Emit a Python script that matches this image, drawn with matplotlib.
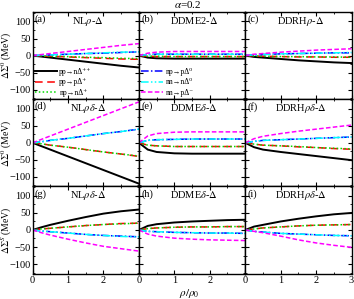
import numpy as np
import matplotlib
matplotlib.use("Agg")
import matplotlib.pyplot as plt
from matplotlib.ticker import MultipleLocator

plt.rcParams['font.family'] = ['Liberation Serif', 'DejaVu Serif']
plt.rcParams['mathtext.fontset'] = 'stix'

# density grid rho/rho0
x = [0, 0.25, 0.5, 1, 1.5, 2, 2.5, 3]

# channel order: pp->nD++, pp->pD+, np->nD+, np->pD0, nn->nD0, nn->pD-
labels = ['pp→nΔ⁺⁺', 'pp→pΔ⁺', 'np→nΔ⁺', 'np→pΔ⁰', 'nn→nΔ⁰', 'nn→pΔ⁻']

# row 1: Sigma^0, rho models
a_vals = [[0, -3, -6, -12, -18, -24, -30, -35],
          [0, -1, -2, -4, -6, -8, -10, -11],
          [0, -1, -2, -3, -5, -6, -8, -9],
          [0, 1, 2, 4, 6, 7, 9, 11],
          [0, 1, 2, 4, 6, 8, 10, 11],
          [0, 3, 6, 12, 18, 24, 30, 35]]
b_vals = [[0, -6, -8, -9, -9, -9, -9, -9],
          [0, -2, -3, -3, -3, -3, -3, -3],
          [0, -2, -2, -3, -3, -3, -3, -3],
          [0, 3, 4, 4, 4, 4, 4, 4],
          [0, 3, 4, 4, 4, 4, 4, 4],
          [0, 7, 10, 12, 12, 12, 12, 12]]
c_vals = [[0, -4, -6, -10, -14, -17, -20, -22],
          [0, -1, -2, -3, -4, -4, -5, -5],
          [0, -1, -2, -3, -3, -4, -4, -5],
          [0, 2, 3, 5, 6, 7, 8, 8],
          [0, 2, 3, 5, 6, 7, 8, 9],
          [0, 4, 6, 10, 13, 16, 18, 20]]
# row 2: Sigma^0, rho-delta models
d_vals = [[0, -10, -20, -40, -60, -80, -100, -120],
          [0, -3, -7, -13, -20, -27, -33, -40],
          [0, -3, -7, -13, -20, -27, -33, -39],
          [0, 3, 7, 13, 20, 27, 33, 40],
          [0, 3, 7, 13, 20, 27, 33, 40],
          [0, 10, 20, 40, 60, 80, 100, 120]]
e_vals = [[0, -20, -27, -31, -32, -32, -32, -32],
          [0, -7, -9, -11, -11, -11, -11, -11],
          [0, -7, -9, -11, -11, -11, -11, -11],
          [0, 7, 9, 10, 11, 11, 11, 11],
          [0, 7, 9, 10, 11, 11, 11, 11],
          [0, 20, 27, 31, 32, 32, 32, 32]]
f_vals = [[0, -13, -20, -27, -33, -39, -45, -51],
          [0, -4, -7, -9, -12, -14, -17, -19],
          [0, -4, -7, -9, -11, -14, -16, -18],
          [0, 4, 7, 9, 11, 13, 15, 17],
          [0, 4, 7, 9, 11, 13, 15, 17],
          [0, 12, 19, 27, 34, 40, 46, 52]]
# row 3: Sigma^S, rho-delta models
g_vals = [[0, 8, 15, 27, 38, 48, 55, 60],
          [0, 3, 5, 9, 13, 16, 19, 20],
          [0, 3, 5, 9, 13, 16, 18, 20],
          [0, -3, -5, -9, -13, -16, -18, -20],
          [0, -3, -5, -9, -13, -16, -19, -20],
          [0, -8, -15, -27, -38, -48, -55, -62]]
h_vals = [[0, 12, 17, 22, 25, 27, 29, 30],
          [0, 4, 6, 8, 9, 9, 10, 10],
          [0, 4, 6, 8, 9, 9, 10, 10],
          [0, -4, -5, -7, -8, -9, -9, -10],
          [0, -4, -5, -7, -8, -9, -9, -10],
          [0, -12, -18, -24, -27, -29, -30, -31]]
i_vals = [[0, 10, 15, 25, 33, 40, 46, 50],
          [0, 3, 6, 9, 12, 14, 15, 16],
          [0, 3, 6, 9, 12, 14, 15, 16],
          [0, -4, -6, -10, -12, -14, -16, -17],
          [0, -4, -6, -10, -12, -14, -16, -17],
          [0, -4, -8, -18, -29, -38, -45, -51]]

panel_data = [a_vals, b_vals, c_vals, d_vals, e_vals, f_vals, g_vals, h_vals, i_vals]
panel_tags = ['(a)', '(b)', '(c)', '(d)', '(e)', '(f)', '(g)', '(h)', '(i)']
models = [r'NL$\rho$-$\Delta$', r'DDME2-$\Delta$', r'DDRH$\rho$-$\Delta$',
          r'NL$\rho\delta$-$\Delta$', r'DDME$\delta$-$\Delta$', r'DDRH$\rho\delta$-$\Delta$',
          r'NL$\rho\delta$-$\Delta$', r'DDME$\delta$-$\Delta$', r'DDRH$\rho\delta$-$\Delta$']
ylabels = [r'$\Delta\Sigma^0$ (MeV)', r'$\Delta\Sigma^0$ (MeV)', r'$\Delta\Sigma^S$ (MeV)']

colors = ['black', 'red', '#00dd00', 'blue', 'cyan', 'magenta']
styles = ['-', (0, (5, 3)), (0, (1, 1.5)), (0, (5, 1.5, 1, 1.5)),
          (0, (5, 1.5, 1, 1.5, 1, 1.5)), (0, (3, 1.5))]

fig, axes = plt.subplots(3, 3, figsize=(3.54, 2.99), dpi=100)
fig.subplots_adjust(left=0.092, right=0.993, top=0.96, bottom=0.085, wspace=0, hspace=0)

for k, ax in enumerate(axes.flat):
    row, col = divmod(k, 3)
    vals = panel_data[k]
    lines = []
    for j in range(6):
        ln, = ax.plot(x, vals[j], color=colors[j], linestyle=styles[j],
                      lw=1.4 if j == 0 else 1.1)
        lines.append(ln)
    ax.set_xlim(0, 3)
    ax.set_ylim(-128, 128)
    ax.xaxis.set_major_locator(MultipleLocator(1))
    ax.xaxis.set_minor_locator(MultipleLocator(0.5))
    ax.yaxis.set_major_locator(MultipleLocator(50))
    ax.yaxis.set_minor_locator(MultipleLocator(25))
    ax.tick_params(which='both', direction='in', top=True, right=True, labelsize=7.5, pad=1.5)
    ax.tick_params(which='major', length=3)
    ax.tick_params(which='minor', length=1.5)
    for s in ax.spines.values():
        s.set_linewidth(1.0)
    if col > 0:
        ax.tick_params(labelleft=False)
    if row < 2:
        ax.tick_params(labelbottom=False)
    else:
        ax.set_xticks([0, 1, 2, 3])
        ax.set_xticklabels(['0', '1', '2', '3' if col == 2 else ''])
    ax.text(0.02, 0.97, panel_tags[k], transform=ax.transAxes, fontsize=7.5, va='top', ha='left')
    ax.text(0.52, 0.97, models[k], transform=ax.transAxes, fontsize=7.5, va='top', ha='center')
    if k in (0, 1):
        sel = range(3) if k == 0 else range(3, 6)
        ax.legend([lines[j] for j in sel], [labels[j] for j in sel], loc='lower left',
                  fontsize=5.5, frameon=False, handlelength=2.9, labelspacing=0.35,
                  borderaxespad=0.0, borderpad=0.3, handletextpad=0.3)

for r in range(3):
    axes[r, 0].set_ylabel(ylabels[r], fontsize=7)
    axes[r, 0].yaxis.set_label_coords(-0.175, 0.5)

fig.text(0.53, 0.985, r'$\alpha$=0.2', fontsize=8, ha='center', va='center')
fig.text(0.535, 0.018, r'$\rho/\rho_0$', fontsize=8, ha='center', va='center')

fig.savefig('out.png', dpi=100)
